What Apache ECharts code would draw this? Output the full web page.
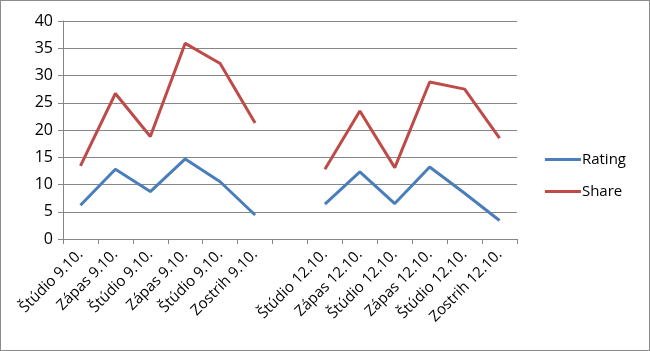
<!DOCTYPE html>
<html>
<head>
<meta charset="utf-8">
<script src="https://cdn.jsdelivr.net/npm/echarts@6/dist/echarts.min.js"></script>
<style>
  html, body { margin: 0; padding: 0; background: #fff; }
  #chart { width: 648px; height: 349px; border: 1px solid #8c8c8c; }
</style>
</head>
<body>
<div id="chart"></div>
<script>
const categories = [
  'Štúdio 9.10.', 'Zápas 9.10.', 'Štúdio 9.10.', 'Zápas 9.10.', 'Štúdio 9.10.', 'Zostrih 9.10.',
  '',
  'Štúdio 12.10.', 'Zápas 12.10.', 'Štúdio 12.10.', 'Zápas 12.10.', 'Štúdio 12.10.', 'Zostrih 12.10.'
];
const rating = [6.2, 12.8, 8.7, 14.7, 10.5, 4.4, null, 6.4, 12.3, 6.5, 13.2, 8.4, 3.4];
const share = [13.4, 26.7, 18.8, 35.9, 32.2, 21.3, null, 12.8, 23.5, 13.1, 28.8, 27.5, 18.5];

const chart = echarts.init(document.getElementById('chart'));
const font = 'Open Sans, sans-serif';

chart.setOption({
  animation: false,
  textStyle: { fontFamily: font },
  grid: { left: 62, right: 132, top: 20, bottom: 111 },
  legend: {
    orient: 'vertical',
    right: 18,
    top: 146,
    itemWidth: 36,
    itemHeight: 3,
    itemGap: 17,
    icon: 'rect',
    textStyle: { fontSize: 15, color: '#000', fontFamily: font, padding: [0, 0, 0, -4] },
    data: ['Rating', 'Share']
  },
  xAxis: {
    type: 'category',
    data: categories,
    boundaryGap: true,
    axisLine: { lineStyle: { color: '#868686', width: 1 } },
    axisTick: { show: true, interval: 0, length: 5, lineStyle: { color: '#868686' } },
    axisLabel: { interval: 0, rotate: 45, fontSize: 15, color: '#000', margin: 13 }
  },
  yAxis: {
    type: 'value',
    min: 0,
    max: 40,
    interval: 5,
    axisLine: { show: true, lineStyle: { color: '#868686', width: 1 } },
    axisTick: { show: true, length: 5, lineStyle: { color: '#868686' } },
    axisLabel: { fontSize: 16, color: '#000', margin: 10 },
    splitLine: { lineStyle: { color: '#868686', width: 1 } }
  },
  series: [
    {
      name: 'Rating',
      type: 'line',
      data: rating,
      symbol: 'none',
      connectNulls: false,
      lineStyle: { color: '#4a7ebb', width: 3 },
      itemStyle: { color: '#4a7ebb' }
    },
    {
      name: 'Share',
      type: 'line',
      data: share,
      symbol: 'none',
      connectNulls: false,
      lineStyle: { color: '#be4b48', width: 3 },
      itemStyle: { color: '#be4b48' }
    }
  ]
});
</script>
</body>
</html>
